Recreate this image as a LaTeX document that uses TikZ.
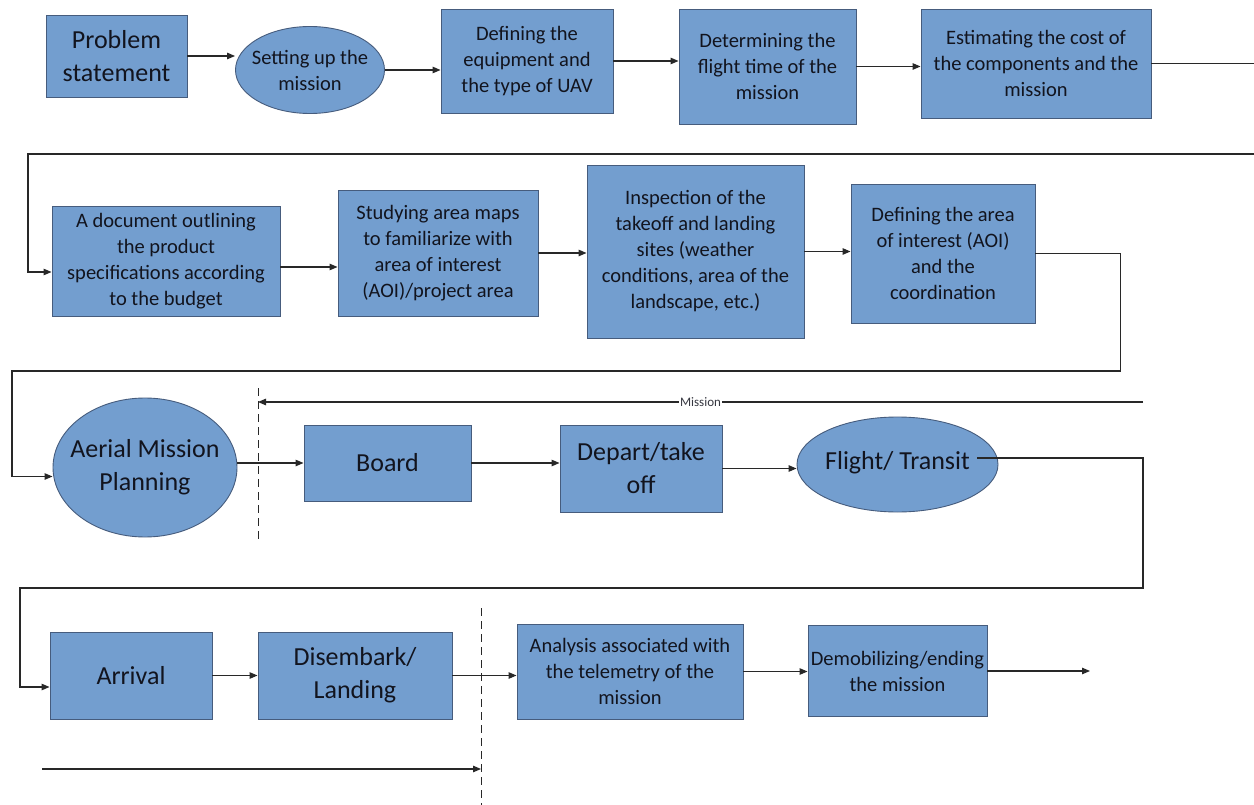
\documentclass[tikz,border=0pt]{standalone}
\usepackage{fontspec}
\setmainfont{Carlito}
\usetikzlibrary{arrows.meta,shapes.geometric}
\definecolor{boxfill}{RGB}{115,158,207}
\definecolor{boxline}{RGB}{70,92,125}
\definecolor{wirecol}{RGB}{40,40,40}
\definecolor{ink}{RGB}{18,20,30}

\begin{document}
\begin{tikzpicture}[x=1pt,y=-1pt,
  txt/.style={align=center, text=ink, font=\fontsize{20.5}{26}\selectfont},
  bigtxt/.style={align=center, text=ink, font=\fontsize{26}{33}\selectfont},
  stepbox/.style={draw=boxline, fill=boxfill, line width=0.9pt, inner sep=0pt, txt},
  bigbox/.style={stepbox, bigtxt},
  ovalbox/.style={draw=boxline, fill=boxfill, line width=0.9pt, inner sep=0pt, ellipse},
  wire/.style={draw=wirecol, line width=1.1pt},
  flow/.style={wire, -{Triangle[length=8pt,width=6.5pt]}},
  guide/.style={draw=wirecol, line width=0.9pt, dash pattern=on 8pt off 5pt}]
\clip (0,0) rectangle (1254,805);
\fill[white] (0,0) rectangle (1254,805);

% ---- row 1: preparation ----
\node[bigbox, minimum width=141pt, minimum height=82pt] (ps) at (116.5,56) {Problem\\statement};
\node[ovalbox, minimum width=149pt, minimum height=87pt,
      label={[txt]center:Setting up the\\mission}] (su) at (310,70) {};
\node[stepbox, minimum width=172pt, minimum height=104pt] (de) at (527,61) {Defining the\\equipment and\\the type of UAV};
\node[stepbox, minimum width=177pt, minimum height=115pt] (dt) at (767.5,66.5) {Determining the\\flight time of the\\mission};
\node[stepbox, minimum width=230pt, minimum height=109pt] (ec) at (1036,63.5) {Estimating the cost of\\the components and the\\mission};

% ---- row 2: site study ----
\node[stepbox, minimum width=228pt, minimum height=110pt] (doc) at (166,261) {A document outlining\\the product\\specifications according\\to the budget};
\node[stepbox, minimum width=200pt, minimum height=126pt] (sa) at (438,253) {Studying area maps\\to familiarize with\\area of interest\\(AOI)/project area};
\node[stepbox, minimum width=217pt, minimum height=173pt] (ins) at (695.5,251.5) {Inspection of the\\takeoff and landing\\sites (weather\\conditions, area of the\\landscape, etc.)};
\node[stepbox, minimum width=184pt, minimum height=139pt] (da) at (943,253.5) {Defining the area\\of interest (AOI)\\and the\\coordination};

% ---- row 3: mission ----
\node[ovalbox, minimum width=184pt, minimum height=139pt,
      label={[bigtxt]center:Aerial Mission\\Planning}] (amp) at (145,467.5) {};
\node[bigbox, minimum width=167pt, minimum height=76pt] (bo) at (387.5,463) {Board};
\node[bigbox, minimum width=162pt, minimum height=87pt] (dp) at (641,468.5) {Depart/take\\off};
\node[ovalbox, minimum width=201pt, minimum height=95pt,
      label={[bigtxt, yshift=1.5pt]center:Flight/ Transit}] (fl) at (897.5,464.5) {};

% ---- row 4: return and wrap-up ----
\node[bigbox, minimum width=162pt, minimum height=87pt] (ar) at (131,675.5) {Arrival};
\node[bigbox, minimum width=194pt, minimum height=87pt] (dis) at (355,675.5) {Disembark/\\Landing};
\node[stepbox, minimum width=226pt, minimum height=95pt] (an) at (630,671.5) {Analysis associated with\\the telemetry of the\\mission};
\node[stepbox, minimum width=179pt, minimum height=91pt] (dm) at (897.5,671) {Demobilizing/ending\\the mission};

% ---- free ends and phase markers ----
\coordinate (flout) at ([xshift=79.5pt,yshift=6.5pt]fl.center);
\coordinate (endpt) at (1090,671);
\coordinate (mstart) at (1143,402);
\coordinate (mend) at (258,402);
\coordinate (bstart) at (42,769);
\coordinate (bend) at (481,769);
\coordinate (g1top) at (258,388);
\coordinate (g1bot) at (258,543);
\coordinate (g2top) at (481,608);
\coordinate (g2bot) at (481,805);

% ---- connectors ----
\draw[flow] (ps.east) -- (ps.east -| su.west);
\draw[flow] (su.east) -- (su.east -| de.west);
\draw[flow] (de.east) -- (de.east -| dt.west);
\draw[flow] (dt.east) -- (dt.east -| ec.west);
\draw[flow] (ec.east) -- ++(130,0) |- (28,154) |- ([yshift=-11pt]doc.west);

\draw[flow] ([yshift=-6pt]doc.east) -- ([yshift=-6pt]doc.east -| sa.west);
\draw[flow] (sa.east) -- (sa.east -| ins.west);
\draw[flow] (ins.east) -- (ins.east -| da.west);
\draw[flow] (da.east) -- ++(85,0) |- (12,371) |- ([yshift=-9pt]amp.west);

\draw[flow] (bo.west -| amp.east) -- (bo.west);
\draw[flow] (bo.east) -- (bo.east -| dp.west);
\draw[flow] (dp.east) -- (dp.east -| fl.west);
\draw[flow] (flout) -| (1143,588) -- (20,588) |- ([yshift=-11.5pt]ar.west);

\draw[flow] (ar.east) -- (ar.east -| dis.west);
\draw[flow] (dis.east) -- (dis.east -| an.west);
\draw[flow] (an.east) -- (an.east -| dm.west);
\draw[flow] (dm.east) -- (dm.east -| endpt);

% mission span and phase boundaries
\draw[flow] (mstart) -- node[fill=white, inner sep=1pt, text=ink!85, font=\fontsize{13}{15}\selectfont] {Mission} (mend);
\draw[flow] (bstart) -- (bend);
\draw[guide] (g1top) -- (g1bot);
\draw[guide] (g2top) -- (g2bot);
\end{tikzpicture}
\end{document}
